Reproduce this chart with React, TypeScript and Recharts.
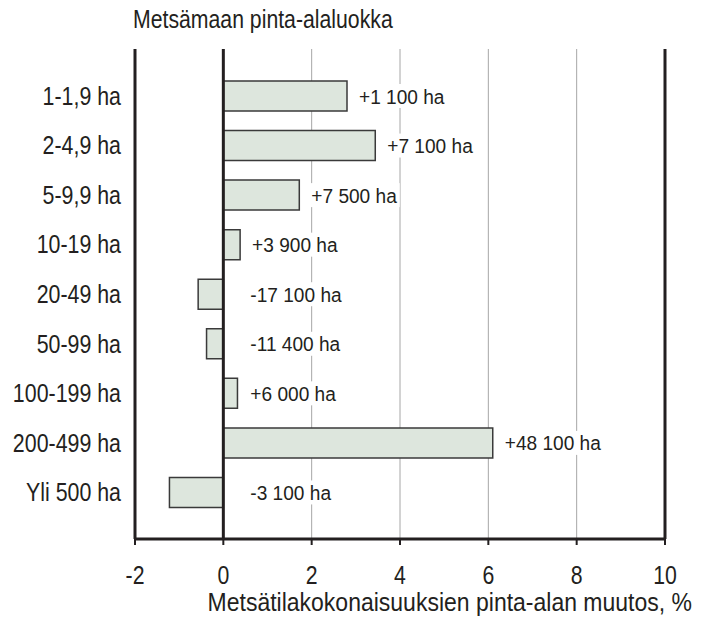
import React from "react";
import {
  BarChart,
  Bar,
  XAxis,
  YAxis,
  CartesianGrid,
  ReferenceLine,
  LabelList,
} from "recharts";

const categories = [
  "1-1,9 ha",
  "2-4,9 ha",
  "5-9,9 ha",
  "10-19 ha",
  "20-49 ha",
  "50-99 ha",
  "100-199 ha",
  "200-499 ha",
  "Yli 500 ha",
];
const changes = [2.8, 3.44, 1.72, 0.38, -0.57, -0.38, 0.32, 6.1, -1.22];
const areaLabels = [
  "+1 100 ha",
  "+7 100 ha",
  "+7 500 ha",
  "+3 900 ha",
  "-17 100 ha",
  "-11 400 ha",
  "+6 000 ha",
  "+48 100 ha",
  "-3 100 ha",
];
const xTicks = [-2, 0, 2, 4, 6, 8, 10];

const data = categories.map((name, i) => ({ name, change: changes[i] }));

const FONT = "'Liberation Sans', Arial, sans-serif";
const INK = "#231f20";

// no condensed font installed, so squeeze Liberation Sans horizontally
const NarrowText = ({ x, y, size, squeeze, anchor = "start", dy = "0", children }: any) => (
  <text
    transform={`translate(${x},${y}) scale(${squeeze},1)`}
    textAnchor={anchor}
    dy={dy}
    fontFamily={FONT}
    fontSize={size}
    fill={INK}
  >
    {children}
  </text>
);

const AreaLabel = (props: any) => {
  const { x, y, width, height, value, index } = props;
  const left = Math.min(x, x + width);
  const right = Math.max(x, x + width);
  const zero = value >= 0 ? left : right;
  const tx = Math.max(right + 12, zero + 27);
  const cy = y + height / 2;
  const text = areaLabels[index];
  return (
    <g>
      <rect x={tx - 2} y={cy - 12} width={text.length * 9.6 + 4} height={24} fill="#fff" />
      <NarrowText x={tx} y={cy} size={21} squeeze={0.91} dy="0.36em">
        {text}
      </NarrowText>
    </g>
  );
};

const XTick = ({ x, y, payload }: any) => (
  <NarrowText x={x} y={y} size={25} squeeze={0.85} anchor="middle" dy="0.71em">
    {payload.value}
  </NarrowText>
);

const YTick = ({ x, y, payload }: any) => (
  <NarrowText x={x} y={y} size={25} squeeze={0.855} anchor="end" dy="0.36em">
    {payload.value}
  </NarrowText>
);

const App = () => {
  return (
    <div style={{ position: "absolute", left: 0, top: 0, background: "#fff" }}>
      <BarChart
        width={712}
        height={618}
        data={data}
        layout="vertical"
        margin={{ top: 49, right: 47, bottom: 0, left: 0 }}
      >
        <CartesianGrid horizontal={false} stroke="#a6a6a6" strokeWidth={1} />
        <XAxis
          type="number"
          dataKey="change"
          domain={[-2, 10]}
          ticks={xTicks}
          height={79}
          axisLine={{ stroke: INK, strokeWidth: 3 }}
          tickLine={{ stroke: INK, strokeWidth: 2 }}
          tickSize={6}
          tickMargin={21}
          tick={XTick}
          label={({ viewBox }: any) => (
            <NarrowText x={viewBox.x + viewBox.width + 27} y={viewBox.y + 72} size={25} squeeze={0.92} anchor="end">
              Metsätilakokonaisuuksien pinta-alan muutos, %
            </NarrowText>
          )}
        />
        <XAxis
          xAxisId="top"
          orientation="top"
          type="number"
          domain={[-2, 10]}
          ticks={xTicks}
          height={0}
          tick={false}
          tickLine={false}
          axisLine={{ stroke: INK, strokeWidth: 3 }}
        />
        <YAxis
          type="category"
          dataKey="name"
          width={135}
          padding={{ top: 22, bottom: 22 }}
          axisLine={false}
          tickLine={false}
          tickSize={0}
          tickMargin={14}
          tick={YTick}
          label={({ viewBox }: any) => (
            <NarrowText x={viewBox.x + viewBox.width - 2} y={viewBox.y - 21} size={25} squeeze={0.85}>
              Metsämaan pinta-alaluokka
            </NarrowText>
          )}
        />
        <ReferenceLine x={-2} stroke={INK} strokeWidth={3} />
        <ReferenceLine x={10} stroke={INK} strokeWidth={3} />
        <Bar
          dataKey="change"
          barSize={30}
          fill="#dde6dd"
          stroke="#3a3a3a"
          strokeWidth={1.5}
          isAnimationActive={false}
        >
          <LabelList dataKey="change" content={AreaLabel} />
        </Bar>
        <ReferenceLine x={0} stroke={INK} strokeWidth={3} />
      </BarChart>
    </div>
  );
};

export default App;
